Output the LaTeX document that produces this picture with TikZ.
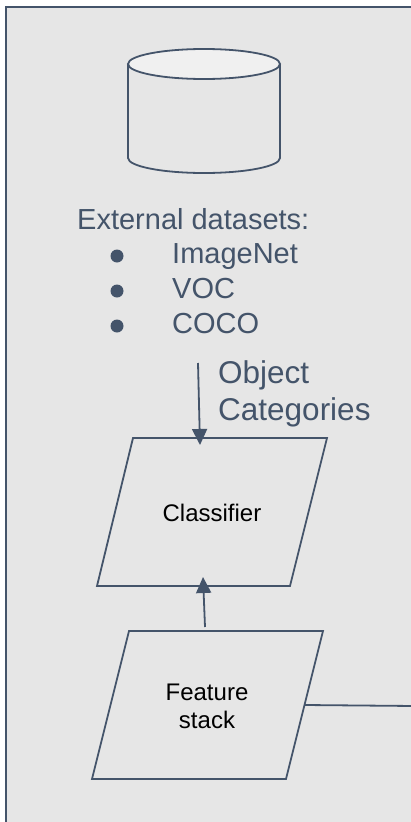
\documentclass[tikz,border=0pt]{standalone}
\usepackage{fontspec}
\setmainfont{Liberation Sans}
\usetikzlibrary{arrows.meta}
\definecolor{slate}{HTML}{44546A}
\definecolor{bggray}{HTML}{E6E6E6}
\definecolor{lidgray}{HTML}{F0F0F0}
\begin{document}
\begin{tikzpicture}[x=1pt,y=-1pt,
  edge/.style={draw=slate,line width=1.8pt},
  arr/.style={edge,-{Triangle[length=16pt,width=15pt]}},
  bigtxt/.style={text=slate,font=\fontsize{29}{34}\selectfont,inner sep=0pt,anchor=base west},
  labtxt/.style={bigtxt,font=\fontsize{31.5}{37}\selectfont},
  smalltxt/.style={text=black,font=\fontsize{24}{28}\selectfont,inner sep=0pt,anchor=base},
  bulletdot/.style={circle,fill=slate,inner sep=0pt,minimum size=13pt}]
\useasboundingbox (0,0) rectangle (411,822);
\clip (0,0) rectangle (411,822);
\fill[white] (0,0) rectangle (411,822);
\draw[edge,fill=bggray] (6,7) rectangle (430,840);
% cylinder
\draw[edge,fill=bggray] (128,64) -- (128,158) arc[start angle=180,end angle=360,x radius=76pt,y radius=15pt] -- (280,64);
\draw[edge,fill=lidgray] (204,64) ellipse[x radius=76pt,y radius=15pt];
% dataset text
\node[bigtxt] (ext) at (77,229) {External datasets:};
\node[bulletdot] (b1) at (117,256) {};
\node[bulletdot] (b2) at (117,291) {};
\node[bulletdot] (b3) at (117,326) {};
\node[bigtxt] (l1) at (172,263) {ImageNet};
\node[bigtxt] (l2) at (172,298) {VOC};
\node[bigtxt] (l3) at (172,333) {COCO};
\node[labtxt] (oc1) at (218,383) {Object};
\node[labtxt] (oc2) at (218,420) {Categories};
% classifier
\coordinate (c1) at (133,438);
\coordinate (c2) at (327,438);
\coordinate (c3) at (290,586);
\coordinate (c4) at (97,586);
\draw[edge] (c1) -- (c2) -- (c3) -- (c4) -- cycle;
\node[smalltxt] (cls) at (212,521) {Classifier};
% feature stack
\coordinate (f1) at (129,631);
\coordinate (f2) at (323,631);
\coordinate (f3) at (286,779);
\coordinate (f4) at (92,779);
\draw[edge] (f1) -- (f2) -- (f3) -- (f4) -- cycle;
\node[smalltxt] (fs1) at (207,700) {Feature};
\node[smalltxt] (fs2) at (207,728) {stack};
% connectors
\coordinate (a1s) at (198,363);
\coordinate (a1e) at (200,445);
\draw[arr] (a1s) -- (a1e);
\coordinate (a2s) at (205,627);
\coordinate (a2e) at (203,577);
\draw[arr] (a2s) -- (a2e);
\coordinate (fsr) at (305,705);
\coordinate (outr) at (415,706);
\draw[edge] (fsr) -- (outr);
\end{tikzpicture}
\end{document}
